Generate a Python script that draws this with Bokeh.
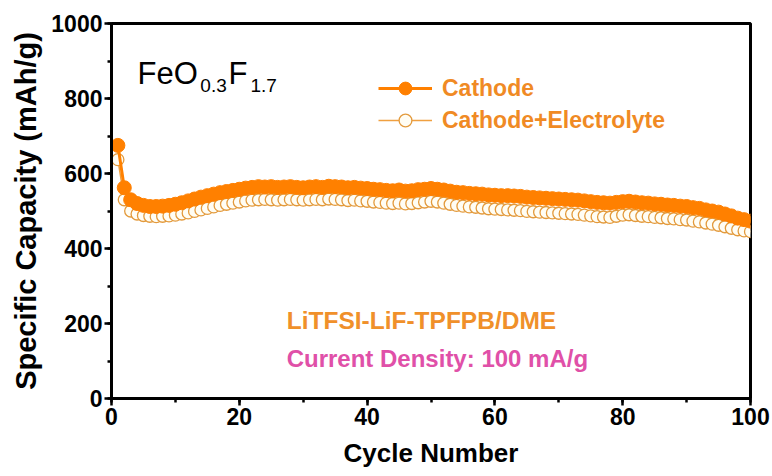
from bokeh.plotting import figure
from bokeh.models import (Range1d, SingleIntervalTicker, Legend, LegendItem)
from bokeh.core.properties import value
from bokeh.embed import file_html
from bokeh.resources import INLINE

# Cycling data: specific capacity (mAh/g) per cycle
cycles = list(range(1, 101))
cathode = [
    675, 562, 530, 520, 515, 512, 512, 513, 515, 518,
    522, 527, 532, 537, 541, 545, 549, 552, 555, 558,
    561, 563, 565, 564, 565, 563, 564, 565, 563, 562,
    564, 565, 563, 566, 565, 564, 562, 563, 561, 560,
    558, 557, 555, 554, 556, 553, 554, 557, 558, 560,
    558, 556, 553, 550, 549, 547, 546, 545, 543, 542,
    541, 541, 540, 539, 537, 536, 535, 534, 533, 532,
    531, 530, 529, 527, 525, 523, 522, 521, 523, 525,
    526, 524, 522, 521, 519, 518, 516, 515, 513, 512,
    509, 507, 503, 500, 497, 492, 487, 481, 477, 473,
]
cathode_electrolyte = [
    637, 530, 500, 492, 488, 486, 485, 486, 487, 489,
    492, 495, 499, 503, 507, 511, 515, 518, 521, 524,
    527, 529, 530, 531, 530, 529, 530, 531, 530, 529,
    530, 531, 530, 532, 531, 530, 528, 529, 527, 526,
    524, 523, 521, 520, 521, 519, 520, 522, 524, 526,
    524, 521, 518, 515, 513, 511, 510, 508, 506, 505,
    504, 503, 502, 501, 499, 498, 497, 496, 495, 494,
    493, 492, 491, 489, 487, 485, 484, 483, 486, 489,
    490, 488, 486, 485, 483, 482, 480, 479, 477, 476,
    473, 471, 468, 465, 462, 458, 454, 450, 447, 445,
]
series_labels = ["Cathode", "Cathode+Electrolyte"]

FONT = "Liberation Sans"
ORANGE = "#FF8000"
GOLD = "#E39A3C"

p = figure(width=772, height=476, output_backend="svg", toolbar_location=None,
           x_range=Range1d(0, 100), y_range=Range1d(0, 1000),
           min_border_left=111, min_border_right=22, min_border_top=23,
           min_border_bottom=78)
p.background_fill_color = "white"
p.border_fill_color = "white"
p.grid.visible = False
p.outline_line_color = "black"
p.outline_line_width = 3

p.xaxis.ticker = SingleIntervalTicker(interval=20, num_minor_ticks=2)
p.yaxis.ticker = SingleIntervalTicker(interval=200, num_minor_ticks=2)
for ax in (p.xaxis, p.yaxis):
    ax.axis_line_width = 3
    ax.major_tick_line_width = 2.5
    ax.minor_tick_line_width = 2.5
    ax.major_tick_in = 0
    ax.major_tick_out = 7
    ax.minor_tick_in = 0
    ax.minor_tick_out = 4
    ax.major_label_text_font = FONT
    ax.major_label_text_font_style = "bold"
    ax.major_label_text_font_size = "23px"
    ax.major_label_text_color = "black"
    ax.axis_label_text_font = FONT
    ax.axis_label_text_font_style = "bold"
    ax.axis_label_text_color = "black"

p.xaxis.axis_label = "Cycle Number"
p.xaxis.axis_label_text_font_size = "26px"
p.xaxis.major_label_standoff = 2
p.xaxis.axis_label_standoff = 10
p.yaxis.axis_label = "Specific Capacity (mAh/g)"
p.yaxis.axis_label_text_font_size = "29px"
p.yaxis.major_label_standoff = 2
p.yaxis.axis_label_standoff = 6

# Cathode + electrolyte: open circles, drawn first
l2 = p.line(cycles, cathode_electrolyte, line_color="#F0A040", line_width=1.5)
s2 = p.scatter(cycles, cathode_electrolyte, marker="circle", size=12,
               fill_color="#FFFDF4", line_color=GOLD, line_width=1.3)
# Cathode only: filled circles on top
l1 = p.line(cycles, cathode, line_color=ORANGE, line_width=3)
s1 = p.scatter(cycles, cathode, marker="circle", size=14,
               fill_color=ORANGE, line_color=ORANGE, line_width=1)

legend = Legend(items=[LegendItem(label=series_labels[0], renderers=[l1, s1]),
                       LegendItem(label=series_labels[1], renderers=[l2, s2])],
                location=(267, 262), orientation="vertical",
                glyph_width=54, glyph_height=32, label_height=30, spacing=-2,
                padding=0, margin=0, label_standoff=10,
                border_line_color=None, background_fill_alpha=0,
                label_text_font=FONT, label_text_font_style="bold",
                label_text_font_size="23px", label_text_color="#F08A24")
p.add_layout(legend)

# Compound formula FeO0.3F1.7
p.text(x=[4.07], y=[866.7], text=["FeO"], text_font=value(FONT),
       text_font_size="31px", text_color="black", text_baseline="alphabetic")
p.text(x=[13.9], y=[834.7], text=["0.3"], text_font=value(FONT),
       text_font_size="19px", text_color="black", text_baseline="alphabetic")
p.text(x=[18.3], y=[866.7], text=["F"], text_font=value(FONT),
       text_font_size="31px", text_color="black", text_baseline="alphabetic")
p.text(x=[21.75], y=[834.7], text=["1.7"], text_font=value(FONT),
       text_font_size="19px", text_color="black", text_baseline="alphabetic")

# Electrolyte and test condition notes
p.text(x=[48.5], y=[208], text=["LiTFSI-LiF-TPFPB/DME"], text_font=value(FONT),
       text_font_style="bold", text_font_size="24.5px", text_color="#F0902A",
       text_align="center", text_baseline="middle")
p.text(x=[51.0], y=[107], text=["Current Density: 100 mA/g"], text_font=value(FONT),
       text_font_style="bold", text_font_size="24px", text_color="#E050A8",
       text_align="center", text_baseline="middle")

open("out.html", "w").write(file_html(p, INLINE))
